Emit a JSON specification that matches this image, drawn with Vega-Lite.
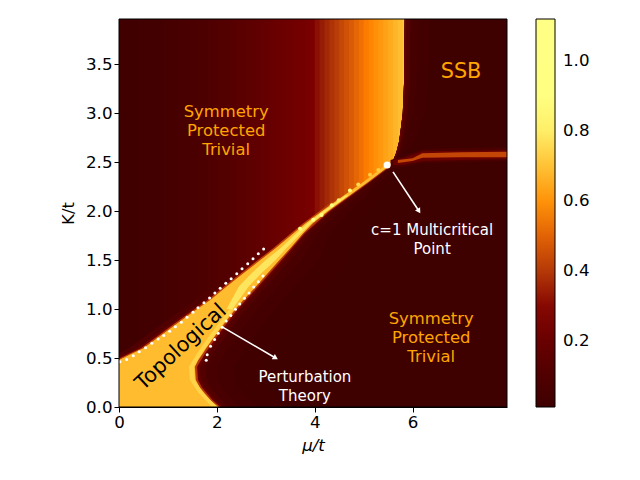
{"$schema":"https://vega.github.io/schema/vega-lite/v6.json","width":388,"height":388,"autosize":"none","padding":{"left":119,"top":19,"right":133,"bottom":73},"background":"white","config":{"font":"DejaVu Sans","view":{"stroke":null},"axis":{"grid":false,"labelFontSize":16.67,"titleFontSize":16.67,"titleFontWeight":"normal","tickSize":5,"tickColor":"black","domainColor":"black","labelColor":"black","titleColor":"black","labelOverlap":false,"labelFlush":false}},
"encoding":{"x":{"field":"x","type":"quantitative","scale":{"domain":[0,7.93],"nice":false,"zero":false},"axis":{"values":[0,2,4,6],"title":"μ/t","titleFontStyle":"italic","format":"d","titlePadding":7}},"y":{"field":"y","type":"quantitative","scale":{"domain":[0,3.96],"nice":false,"zero":false},"axis":{"values":[0,0.5,1,1.5,2,2.5,3,3.5],"title":"K/t","format":".1f","titlePadding":8}}},
"layer":[
{"mark":{"type":"rect","clip":true},"data":{"values":[
{"x":0,"x2":0.12,"y":0,"y2":3.96,"v":0.02},{"x":0.1,"x2":0.22,"y":0,"y2":3.96,"v":0.022},{"x":0.2,"x2":0.32,"y":0,"y2":3.96,"v":0.025},{"x":0.3,"x2":0.42,"y":0,"y2":3.96,"v":0.028},{"x":0.4,"x2":0.52,"y":0,"y2":3.96,"v":0.03},{"x":0.5,"x2":0.62,"y":0,"y2":3.96,"v":0.033},{"x":0.6,"x2":0.72,"y":0,"y2":3.96,"v":0.037},{"x":0.7,"x2":0.82,"y":0,"y2":3.96,"v":0.04},{"x":0.8,"x2":0.92,"y":0,"y2":3.96,"v":0.045},{"x":0.9,"x2":1.02,"y":0,"y2":3.96,"v":0.05},
{"x":1.0,"x2":1.12,"y":0,"y2":3.96,"v":0.054},{"x":1.1,"x2":1.22,"y":0,"y2":3.96,"v":0.058},{"x":1.2,"x2":1.32,"y":0,"y2":3.96,"v":0.063},{"x":1.3,"x2":1.42,"y":0,"y2":3.96,"v":0.068},{"x":1.4,"x2":1.52,"y":0,"y2":3.96,"v":0.073},{"x":1.5,"x2":1.62,"y":0,"y2":3.96,"v":0.078},{"x":1.6,"x2":1.72,"y":0,"y2":3.96,"v":0.085},{"x":1.7,"x2":1.82,"y":0,"y2":3.96,"v":0.09},{"x":1.8,"x2":1.92,"y":0,"y2":3.96,"v":0.096},{"x":1.9,"x2":2.02,"y":0,"y2":3.96,"v":0.102},
{"x":2.0,"x2":2.12,"y":0,"y2":3.96,"v":0.108},{"x":2.1,"x2":2.22,"y":0,"y2":3.96,"v":0.115},{"x":2.2,"x2":2.32,"y":0,"y2":3.96,"v":0.122},{"x":2.3,"x2":2.42,"y":0,"y2":3.96,"v":0.13},{"x":2.4,"x2":2.52,"y":0,"y2":3.96,"v":0.138},{"x":2.5,"x2":2.62,"y":0,"y2":3.96,"v":0.146},{"x":2.6,"x2":2.72,"y":0,"y2":3.96,"v":0.155},{"x":2.7,"x2":2.82,"y":0,"y2":3.96,"v":0.163},{"x":2.8,"x2":2.92,"y":0,"y2":3.96,"v":0.172},{"x":2.9,"x2":3.02,"y":0,"y2":3.96,"v":0.18},
{"x":3.0,"x2":3.12,"y":0,"y2":3.96,"v":0.19},{"x":3.1,"x2":3.22,"y":0,"y2":3.96,"v":0.198},{"x":3.2,"x2":3.32,"y":0,"y2":3.96,"v":0.206},{"x":3.3,"x2":3.42,"y":0,"y2":3.96,"v":0.214},{"x":3.4,"x2":3.52,"y":0,"y2":3.96,"v":0.222},{"x":3.5,"x2":3.62,"y":0,"y2":3.96,"v":0.23},{"x":3.6,"x2":3.72,"y":0,"y2":3.96,"v":0.238},{"x":3.7,"x2":3.82,"y":0,"y2":3.96,"v":0.246},{"x":3.8,"x2":3.92,"y":0,"y2":3.96,"v":0.255},{"x":3.9,"x2":4.02,"y":0,"y2":3.96,"v":0.275},
{"x":4.0,"x2":4.12,"y":0,"y2":3.96,"v":0.31},{"x":4.1,"x2":4.22,"y":0,"y2":3.96,"v":0.335},{"x":4.2,"x2":4.32,"y":0,"y2":3.96,"v":0.36},{"x":4.3,"x2":4.42,"y":0,"y2":3.96,"v":0.385},{"x":4.4,"x2":4.52,"y":0,"y2":3.96,"v":0.41},{"x":4.5,"x2":4.62,"y":0,"y2":3.96,"v":0.435},{"x":4.6,"x2":4.72,"y":0,"y2":3.96,"v":0.46},{"x":4.7,"x2":4.82,"y":0,"y2":3.96,"v":0.48},{"x":4.8,"x2":4.92,"y":0,"y2":3.96,"v":0.505},{"x":4.9,"x2":5.02,"y":0,"y2":3.96,"v":0.53},
{"x":5.0,"x2":5.12,"y":0,"y2":3.96,"v":0.555},{"x":5.1,"x2":5.22,"y":0,"y2":3.96,"v":0.575},{"x":5.2,"x2":5.32,"y":0,"y2":3.96,"v":0.595},{"x":5.3,"x2":5.42,"y":0,"y2":3.96,"v":0.61},{"x":5.4,"x2":5.52,"y":0,"y2":3.96,"v":0.63},{"x":5.5,"x2":5.62,"y":0,"y2":3.96,"v":0.65},{"x":5.6,"x2":5.72,"y":0,"y2":3.96,"v":0.67},{"x":5.7,"x2":5.82,"y":0,"y2":3.96,"v":0.69},{"x":5.8,"x2":5.9,"y":0,"y2":3.96,"v":0.72},{"x":5.84,"x2":7.93,"y":0,"y2":3.96,"v":0.012}]},
"encoding":{"x2":{"field":"x2"},"y2":{"field":"y2"},"color":{"field":"v","type":"quantitative","scale":{"domain":[0.01,0.2875,0.565,0.8425,1.12],"range":["#000000","#800000","#ff8000","#ffff80","#ffffff"],"clamp":true},"legend":{"orient":"none","legendX":417,"legendY":0,"title":null,"gradientLength":388,"gradientThickness":19,"values":[0.2,0.4,0.6,0.8,1.0],"format":".1f","labelFontSize":16.67,"labelColor":"black","labelOffset":8,"gradientStrokeColor":"black","gradientStrokeWidth":1,"direction":"vertical"}}}},
{"mark":{"type":"area","orient":"horizontal","clip":true},"data":{"values":[
{"l":"k","y":0,"x":1.5,"x2":7.93,"v":0.012},{"l":"k","y":0.275,"x":1.4,"x2":7.93,"v":0.012},{"l":"k","y":0.55,"x":1.4,"x2":7.93,"v":0.012},{"l":"k","y":0.75,"x":1.6,"x2":7.93,"v":0.012},{"l":"k","y":1,"x":2,"x2":7.93,"v":0.012},{"l":"k","y":1.23,"x":2.5,"x2":7.93,"v":0.012},{"l":"k","y":1.5,"x":3.1,"x2":7.93,"v":0.012},{"l":"k","y":1.77,"x":3.66,"x2":7.93,"v":0.012},{"l":"k","y":2,"x":4.22,"x2":7.93,"v":0.012},{"l":"k","y":2.16,"x":4.66,"x2":7.93,"v":0.012},{"l":"k","y":2.3,"x":5.05,"x2":7.93,"v":0.012},{"l":"k","y":2.47,"x":5.5,"x2":7.93,"v":0.012},
{"l":"b0","y":2.47,"x":5.56,"x2":6.9,"v":0.012},{"l":"b0","y":2.55,"x":5.63,"x2":6.9,"v":0.012},{"l":"b0","y":2.6,"x":5.67,"x2":6.9,"v":0.012},{"l":"b0","y":2.7,"x":5.72,"x2":6.9,"v":0.012},{"l":"b0","y":2.8,"x":5.75,"x2":6.9,"v":0.012},{"l":"b0","y":3,"x":5.8,"x2":6.9,"v":0.012},{"l":"b0","y":3.3,"x":5.825,"x2":6.9,"v":0.012},{"l":"b0","y":3.96,"x":5.84,"x2":6.9,"v":0.012},
{"l":"b1","y":2.47,"x":5.56,"x2":5.66,"v":0.03},{"l":"b1","y":2.55,"x":5.63,"x2":5.78,"v":0.03},{"l":"b1","y":2.6,"x":5.67,"x2":5.87,"v":0.03},{"l":"b1","y":2.7,"x":5.72,"x2":6.02,"v":0.03},{"l":"b1","y":2.8,"x":5.75,"x2":6.1,"v":0.03},{"l":"b1","y":3,"x":5.8,"x2":6.25,"v":0.03},{"l":"b1","y":3.3,"x":5.825,"x2":6.325,"v":0.03},{"l":"b1","y":3.96,"x":5.84,"x2":6.36,"v":0.03},
{"l":"b2","y":2.47,"x":5.56,"x2":5.62,"v":0.06},{"l":"b2","y":2.55,"x":5.63,"x2":5.71,"v":0.06},{"l":"b2","y":2.6,"x":5.67,"x2":5.77,"v":0.06},{"l":"b2","y":2.7,"x":5.72,"x2":5.85,"v":0.06},{"l":"b2","y":2.8,"x":5.75,"x2":5.9,"v":0.06},{"l":"b2","y":3,"x":5.8,"x2":6,"v":0.06},{"l":"b2","y":3.3,"x":5.825,"x2":6.075,"v":0.06},{"l":"b2","y":3.96,"x":5.84,"x2":6.11,"v":0.06},
{"l":"b3","y":2.47,"x":5.56,"x2":5.59,"v":0.12},{"l":"b3","y":2.55,"x":5.63,"x2":5.67,"v":0.12},{"l":"b3","y":2.6,"x":5.67,"x2":5.72,"v":0.12},{"l":"b3","y":2.7,"x":5.72,"x2":5.78,"v":0.12},{"l":"b3","y":2.8,"x":5.75,"x2":5.82,"v":0.12},{"l":"b3","y":3,"x":5.8,"x2":5.89,"v":0.12},{"l":"b3","y":3.3,"x":5.825,"x2":5.925,"v":0.12},{"l":"b3","y":3.96,"x":5.84,"x2":5.96,"v":0.12},
{"l":"b4","y":2.47,"x":5.56,"x2":5.58,"v":0.22},{"l":"b4","y":2.55,"x":5.63,"x2":5.65,"v":0.22},{"l":"b4","y":2.6,"x":5.67,"x2":5.69,"v":0.22},{"l":"b4","y":2.7,"x":5.72,"x2":5.74,"v":0.22},{"l":"b4","y":2.8,"x":5.75,"x2":5.77,"v":0.22},{"l":"b4","y":3,"x":5.8,"x2":5.82,"v":0.22},{"l":"b4","y":3.3,"x":5.825,"x2":5.85,"v":0.22},{"l":"b4","y":3.96,"x":5.84,"x2":5.87,"v":0.22},
{"l":"A","y":0,"x":1.5,"x2":3.43,"v":0.025},{"l":"A","y":0.07,"x":1.5,"x2":3.27,"v":0.025},{"l":"A","y":0.14,"x":1.5,"x2":3.15,"v":0.025},{"l":"A","y":0.2,"x":1.5,"x2":3.05,"v":0.025},{"l":"A","y":0.275,"x":1.4,"x2":2.97,"v":0.025},{"l":"A","y":0.41,"x":1.4,"x2":2.95,"v":0.025},{"l":"A","y":0.55,"x":1.4,"x2":3.12,"v":0.025},{"l":"A","y":0.75,"x":1.6,"x2":3.4,"v":0.025},{"l":"A","y":1,"x":2,"x2":3.78,"v":0.025},{"l":"A","y":1.23,"x":2.5,"x2":4.2,"v":0.025},{"l":"A","y":1.5,"x":3.1,"x2":4.68,"v":0.025},{"l":"A","y":1.77,"x":3.66,"x2":4.76,"v":0.025},{"l":"A","y":2,"x":4.22,"x2":5.08,"v":0.025},{"l":"A","y":2.16,"x":4.66,"x2":5.32,"v":0.025},{"l":"A","y":2.3,"x":5.05,"x2":5.5,"v":0.025},{"l":"A","y":2.47,"x":5.5,"x2":5.75,"v":0.025},
{"l":"B","y":0,"x":1.5,"x2":2.83,"v":0.045},{"l":"B","y":0.07,"x":1.5,"x2":2.67,"v":0.045},{"l":"B","y":0.14,"x":1.5,"x2":2.55,"v":0.045},{"l":"B","y":0.2,"x":1.5,"x2":2.45,"v":0.045},{"l":"B","y":0.275,"x":1.4,"x2":2.37,"v":0.045},{"l":"B","y":0.41,"x":1.4,"x2":2.35,"v":0.045},{"l":"B","y":0.55,"x":1.4,"x2":2.52,"v":0.045},{"l":"B","y":0.75,"x":1.6,"x2":2.8,"v":0.045},{"l":"B","y":1,"x":2,"x2":3.18,"v":0.045},{"l":"B","y":1.23,"x":2.5,"x2":3.6,"v":0.045},{"l":"B","y":1.5,"x":3.1,"x2":4.08,"v":0.045},{"l":"B","y":1.77,"x":3.66,"x2":4.31,"v":0.045},{"l":"B","y":2,"x":4.22,"x2":4.73,"v":0.045},{"l":"B","y":2.16,"x":4.66,"x2":5.07,"v":0.045},{"l":"B","y":2.3,"x":5.05,"x2":5.35,"v":0.045},{"l":"B","y":2.47,"x":5.5,"x2":5.67,"v":0.045},
{"l":"C","y":0,"x":1.5,"x2":2.48,"v":0.07},{"l":"C","y":0.07,"x":1.5,"x2":2.32,"v":0.07},{"l":"C","y":0.14,"x":1.5,"x2":2.2,"v":0.07},{"l":"C","y":0.2,"x":1.5,"x2":2.1,"v":0.07},{"l":"C","y":0.275,"x":1.4,"x2":2.02,"v":0.07},{"l":"C","y":0.41,"x":1.4,"x2":2,"v":0.07},{"l":"C","y":0.55,"x":1.4,"x2":2.17,"v":0.07},{"l":"C","y":0.75,"x":1.6,"x2":2.45,"v":0.07},{"l":"C","y":1,"x":2,"x2":2.83,"v":0.07},{"l":"C","y":1.23,"x":2.5,"x2":3.25,"v":0.07},{"l":"C","y":1.5,"x":3.1,"x2":3.73,"v":0.07},{"l":"C","y":1.77,"x":3.66,"x2":4.06,"v":0.07},{"l":"C","y":2,"x":4.22,"x2":4.53,"v":0.07},{"l":"C","y":2.16,"x":4.66,"x2":4.92,"v":0.07},{"l":"C","y":2.3,"x":5.05,"x2":5.25,"v":0.07},{"l":"C","y":2.47,"x":5.5,"x2":5.63,"v":0.07},
{"l":"D","y":0,"x":1.5,"x2":2.25,"v":0.11},{"l":"D","y":0.07,"x":1.5,"x2":2.09,"v":0.11},{"l":"D","y":0.14,"x":1.5,"x2":1.97,"v":0.11},{"l":"D","y":0.2,"x":1.5,"x2":1.87,"v":0.11},{"l":"D","y":0.275,"x":1.4,"x2":1.79,"v":0.11},{"l":"D","y":0.41,"x":1.4,"x2":1.77,"v":0.11},{"l":"D","y":0.55,"x":1.4,"x2":1.94,"v":0.11},{"l":"D","y":0.75,"x":1.6,"x2":2.22,"v":0.11},{"l":"D","y":1,"x":2,"x2":2.6,"v":0.11},{"l":"D","y":1.23,"x":2.5,"x2":3.02,"v":0.11},{"l":"D","y":1.5,"x":3.1,"x2":3.5,"v":0.11},{"l":"D","y":1.77,"x":3.66,"x2":3.91,"v":0.11},{"l":"D","y":2,"x":4.22,"x2":4.4,"v":0.11},{"l":"D","y":2.16,"x":4.66,"x2":4.82,"v":0.11},{"l":"D","y":2.3,"x":5.05,"x2":5.18,"v":0.11},{"l":"D","y":2.47,"x":5.5,"x2":5.6,"v":0.11},
{"l":"E","y":0,"x":1.5,"x2":2.13,"v":0.2},{"l":"E","y":0.07,"x":1.5,"x2":1.97,"v":0.2},{"l":"E","y":0.14,"x":1.5,"x2":1.85,"v":0.2},{"l":"E","y":0.2,"x":1.5,"x2":1.75,"v":0.2},{"l":"E","y":0.275,"x":1.4,"x2":1.67,"v":0.2},{"l":"E","y":0.41,"x":1.4,"x2":1.65,"v":0.2},{"l":"E","y":0.55,"x":1.4,"x2":1.82,"v":0.2},{"l":"E","y":0.75,"x":1.6,"x2":2.1,"v":0.2},{"l":"E","y":1,"x":2,"x2":2.48,"v":0.2},{"l":"E","y":1.23,"x":2.5,"x2":2.9,"v":0.2},{"l":"E","y":1.5,"x":3.1,"x2":3.38,"v":0.2},{"l":"E","y":1.77,"x":3.66,"x2":3.83,"v":0.2},{"l":"E","y":2,"x":4.22,"x2":4.34,"v":0.2},{"l":"E","y":2.16,"x":4.66,"x2":4.77,"v":0.2},{"l":"E","y":2.3,"x":5.05,"x2":5.14,"v":0.2},{"l":"E","y":2.47,"x":5.5,"x2":5.58,"v":0.2},
{"l":"F","y":0,"x":1.5,"x2":2.075,"v":0.4},{"l":"F","y":0.07,"x":1.5,"x2":1.915,"v":0.4},{"l":"F","y":0.14,"x":1.5,"x2":1.795,"v":0.4},{"l":"F","y":0.2,"x":1.5,"x2":1.695,"v":0.4},{"l":"F","y":0.275,"x":1.4,"x2":1.615,"v":0.4},{"l":"F","y":0.41,"x":1.4,"x2":1.595,"v":0.4},{"l":"F","y":0.55,"x":1.4,"x2":1.765,"v":0.4},{"l":"F","y":0.75,"x":1.6,"x2":2.045,"v":0.4},{"l":"F","y":1,"x":2,"x2":2.425,"v":0.4},{"l":"F","y":1.23,"x":2.5,"x2":2.845,"v":0.4},{"l":"F","y":1.5,"x":3.1,"x2":3.325,"v":0.4},{"l":"F","y":1.77,"x":3.66,"x2":3.79,"v":0.4},{"l":"F","y":2,"x":4.22,"x2":4.31,"v":0.4},{"l":"F","y":2.16,"x":4.66,"x2":4.75,"v":0.4},{"l":"F","y":2.3,"x":5.05,"x2":5.13,"v":0.4},{"l":"F","y":2.47,"x":5.5,"x2":5.58,"v":0.4},
{"l":"G0","y":0.44,"x":-0.5,"x2":0,"v":0.1},{"l":"G0","y":0.55,"x":-0.01,"x2":0.4,"v":0.1},{"l":"G0","y":0.6,"x":0.2,"x2":0.6,"v":0.1},{"l":"G0","y":0.75,"x":0.61,"x2":1,"v":0.1},{"l":"G0","y":0.85,"x":0.88,"x2":1.3,"v":0.1},{"l":"G0","y":1,"x":1.3,"x2":1.7,"v":0.1},{"l":"G0","y":1.09,"x":1.56,"x2":2,"v":0.1},{"l":"G0","y":1.23,"x":1.9,"x2":2.3,"v":0.1},
{"l":"G","y":0.44,"x":-0.29,"x2":0.1,"v":0.2},{"l":"G","y":0.48,"x":-0.12,"x2":0.2,"v":0.2},{"l":"G","y":0.55,"x":0.17,"x2":0.4,"v":0.2},{"l":"G","y":0.6,"x":0.38,"x2":0.6,"v":0.2},{"l":"G","y":0.75,"x":0.79,"x2":1,"v":0.2},{"l":"G","y":0.85,"x":1.06,"x2":1.3,"v":0.2},{"l":"G","y":1,"x":1.48,"x2":1.7,"v":0.2},{"l":"G","y":1.09,"x":1.74,"x2":2,"v":0.2},{"l":"G","y":1.23,"x":2.08,"x2":2.3,"v":0.2},{"l":"G","y":1.36,"x":2.41,"x2":2.6,"v":0.2},{"l":"G","y":1.5,"x":2.77,"x2":3,"v":0.2},{"l":"G","y":1.62,"x":3.08,"x2":3.3,"v":0.2},
{"l":"H","y":0.44,"x":-0.22,"x2":0.1,"v":0.42},{"l":"H","y":0.48,"x":-0.05,"x2":0.2,"v":0.42},{"l":"H","y":0.55,"x":0.24,"x2":0.4,"v":0.42},{"l":"H","y":0.6,"x":0.45,"x2":0.6,"v":0.42},{"l":"H","y":0.75,"x":0.86,"x2":1,"v":0.42},{"l":"H","y":0.85,"x":1.13,"x2":1.3,"v":0.42},{"l":"H","y":1,"x":1.55,"x2":1.7,"v":0.42},{"l":"H","y":1.09,"x":1.81,"x2":2,"v":0.42},{"l":"H","y":1.23,"x":2.15,"x2":2.3,"v":0.42},{"l":"H","y":1.36,"x":2.48,"x2":2.6,"v":0.42},{"l":"H","y":1.5,"x":2.84,"x2":3,"v":0.42},{"l":"H","y":1.62,"x":3.15,"x2":3.3,"v":0.42},{"l":"H","y":1.77,"x":3.51,"x2":3.65,"v":0.42},{"l":"H","y":1.87,"x":3.75,"x2":3.88,"v":0.42},{"l":"H","y":2,"x":4.1,"x2":4.2,"v":0.42},{"l":"H","y":2.1,"x":4.36,"x2":4.45,"v":0.42},
{"l":"W","y":0,"x":-0.1,"x2":2.03,"v":0.685},{"l":"W","y":0.07,"x":-0.1,"x2":1.87,"v":0.685},{"l":"W","y":0.14,"x":-0.1,"x2":1.75,"v":0.685},{"l":"W","y":0.2,"x":-0.1,"x2":1.65,"v":0.685},{"l":"W","y":0.275,"x":-0.1,"x2":1.57,"v":0.685},{"l":"W","y":0.41,"x":-0.1,"x2":1.55,"v":0.685},{"l":"W","y":0.44,"x":-0.17,"x2":1.58,"v":0.685},{"l":"W","y":0.48,"x":0,"x2":1.62,"v":0.685},{"l":"W","y":0.55,"x":0.29,"x2":1.72,"v":0.685},{"l":"W","y":0.6,"x":0.5,"x2":1.78,"v":0.685},{"l":"W","y":0.75,"x":0.91,"x2":2,"v":0.685},{"l":"W","y":0.85,"x":1.18,"x2":2.15,"v":0.685},{"l":"W","y":1,"x":1.6,"x2":2.38,"v":0.685},{"l":"W","y":1.09,"x":1.86,"x2":2.54,"v":0.685},{"l":"W","y":1.23,"x":2.2,"x2":2.8,"v":0.685},{"l":"W","y":1.36,"x":2.53,"x2":3.03,"v":0.685},{"l":"W","y":1.5,"x":2.89,"x2":3.28,"v":0.685},{"l":"W","y":1.62,"x":3.2,"x2":3.5,"v":0.685},{"l":"W","y":1.77,"x":3.56,"x2":3.76,"v":0.685},{"l":"W","y":1.87,"x":3.8,"x2":3.95,"v":0.685},{"l":"W","y":2,"x":4.15,"x2":4.28,"v":0.685},{"l":"W","y":2.16,"x":4.6,"x2":4.72,"v":0.685},{"l":"W","y":2.3,"x":5,"x2":5.1,"v":0.685},{"l":"W","y":2.47,"x":5.45,"x2":5.55,"v":0.685},
{"l":"Y","y":0,"x":1.9,"x2":2.01,"v":0.74},{"l":"Y","y":0.14,"x":1.63,"x2":1.73,"v":0.74},{"l":"Y","y":0.275,"x":1.45,"x2":1.55,"v":0.74},{"l":"Y","y":0.41,"x":1.43,"x2":1.53,"v":0.74},{"l":"Y","y":0.55,"x":1.6,"x2":1.7,"v":0.74},{"l":"Y","y":0.75,"x":1.88,"x2":1.98,"v":0.74},{"l":"Y","y":1,"x":2.26,"x2":2.34,"v":0.74},
{"l":"Z","y":1,"x":2.2,"x2":2.32,"v":0.78},{"l":"Z","y":1.23,"x":2.45,"x2":2.65,"v":0.78},{"l":"Z","y":1.36,"x":2.7,"x2":2.9,"v":0.78},{"l":"Z","y":1.5,"x":3,"x2":3.2,"v":0.78},{"l":"Z","y":1.62,"x":3.3,"x2":3.42,"v":0.78},{"l":"Z","y":1.77,"x":3.62,"x2":3.72,"v":0.78},{"l":"Z","y":1.87,"x":3.84,"x2":3.92,"v":0.78},{"l":"Z","y":2,"x":4.18,"x2":4.25,"v":0.78},{"l":"Z","y":2.16,"x":4.63,"x2":4.69,"v":0.78}]},
"encoding":{"x2":{"field":"x2"},"detail":{"field":"l"},"color":{"field":"v","type":"quantitative","scale":{"domain":[0.01,0.2875,0.565,0.8425,1.12],"range":["#000000","#800000","#ff8000","#ffff80","#ffffff"],"clamp":true},"legend":null}}},
{"mark":{"type":"area","orient":"vertical","clip":true},"data":{"values":[
{"l":"h1","x":5.55,"y":2.44,"y2":2.52,"v":0.08},{"l":"h1","x":5.8,"y":2.45,"y2":2.56,"v":0.08},{"l":"h1","x":6.2,"y":2.49,"y2":2.63,"v":0.08},{"l":"h1","x":7,"y":2.5,"y2":2.64,"v":0.08},{"l":"h1","x":7.93,"y":2.51,"y2":2.65,"v":0.08},
{"l":"h2","x":5.6,"y":2.47,"y2":2.52,"v":0.2},{"l":"h2","x":5.8,"y":2.47,"y2":2.54,"v":0.2},{"l":"h2","x":6.2,"y":2.51,"y2":2.61,"v":0.2},{"l":"h2","x":7,"y":2.52,"y2":2.615,"v":0.2},{"l":"h2","x":7.93,"y":2.53,"y2":2.62,"v":0.2},
{"l":"h3","x":5.7,"y":2.49,"y2":2.52,"v":0.43},{"l":"h3","x":6,"y":2.51,"y2":2.54,"v":0.43},{"l":"h3","x":6.2,"y":2.545,"y2":2.59,"v":0.43},{"l":"h3","x":7,"y":2.55,"y2":2.6,"v":0.43},{"l":"h3","x":7.93,"y":2.55,"y2":2.605,"v":0.43}]},
"encoding":{"y2":{"field":"y2"},"detail":{"field":"l"},"color":{"field":"v","type":"quantitative","scale":{"domain":[0.01,0.2875,0.565,0.8425,1.12],"range":["#000000","#800000","#ff8000","#ffff80","#ffffff"],"clamp":true},"legend":null}}},
{"mark":{"type":"point","filled":true,"opacity":1,"size":16,"clip":true},"data":{"values":[{"x":3.7,"y":1.82,"v":0.85},{"x":3.97,"y":1.91,"v":0.9},{"x":4.14,"y":1.96,"v":0.85},{"x":4.35,"y":2.06,"v":0.9},{"x":4.49,"y":2.11,"v":0.8},{"x":4.72,"y":2.21,"v":0.85},{"x":4.89,"y":2.27,"v":0.75},{"x":5.13,"y":2.37,"v":0.72},{"x":5.3,"y":2.42,"v":0.72}]},"encoding":{"color":{"field":"v","type":"quantitative","scale":{"domain":[0.01,0.2875,0.565,0.8425,1.12],"range":["#000000","#800000","#ff8000","#ffff80","#ffffff"],"clamp":true},"legend":null}}},
{"mark":{"type":"circle","color":"white","opacity":1,"size":9},"data":{"values":[{"x":0.02,"y":0.463},{"x":0.156,"y":0.486},{"x":0.292,"y":0.524},{"x":0.414,"y":0.565},{"x":0.542,"y":0.605},{"x":0.671,"y":0.65},{"x":0.8,"y":0.694},{"x":0.915,"y":0.731},{"x":1.037,"y":0.772},{"x":1.153,"y":0.82},{"x":1.275,"y":0.864},{"x":1.39,"y":0.915},{"x":1.512,"y":0.966},{"x":1.614,"y":1.014},{"x":1.736,"y":1.065},{"x":1.851,"y":1.112},{"x":1.959,"y":1.163},{"x":2.068,"y":1.211},{"x":2.183,"y":1.262},{"x":2.292,"y":1.31},{"x":2.407,"y":1.361},{"x":2.515,"y":1.412},{"x":2.631,"y":1.463},{"x":2.739,"y":1.514},{"x":2.847,"y":1.565},{"x":2.956,"y":1.612},
{"x":1.783,"y":0.476},{"x":1.803,"y":0.534},{"x":1.871,"y":0.619},{"x":1.953,"y":0.69},{"x":2.027,"y":0.752},{"x":2.108,"y":0.813},{"x":2.19,"y":0.878},{"x":2.285,"y":0.935},{"x":2.38,"y":0.997},{"x":2.468,"y":1.051},{"x":2.563,"y":1.109},{"x":2.658,"y":1.163},{"x":2.753,"y":1.224},{"x":2.847,"y":1.279},{"x":2.942,"y":1.337}]}},
{"mark":{"type":"rule","color":"white","strokeWidth":1.6},"data":{"values":[{"x":2.1,"y":0.82,"x2":3.2,"y2":0.5},{"x":5.6,"y":2.4,"x2":6.13,"y2":2.0}]},"encoding":{"x2":{"field":"x2"},"y2":{"field":"y2"}}},
{"mark":{"type":"point","shape":"triangle-up","filled":true,"color":"white","opacity":1,"size":36,"angle":121},"data":{"values":[{"x":3.2,"y":0.5}]}},
{"mark":{"type":"point","shape":"triangle-up","filled":true,"color":"white","opacity":1,"size":36,"angle":148},"data":{"values":[{"x":6.13,"y":2.0}]}},
{"mark":{"type":"circle","color":"white","opacity":1,"size":50},"data":{"values":[{"x":5.48,"y":2.47}]}},
{"mark":{"type":"text","color":"orange","fontSize":16.4,"align":"center","baseline":"middle"},"data":{"values":[{"x":2.19,"y":3.01,"t":"Symmetry"},{"x":2.19,"y":2.82,"t":"Protected"},{"x":2.19,"y":2.62,"t":"Trivial"},{"x":6.38,"y":0.9,"t":"Symmetry"},{"x":6.38,"y":0.7,"t":"Protected"},{"x":6.38,"y":0.51,"t":"Trivial"}]},"encoding":{"text":{"field":"t"}}},
{"mark":{"type":"text","color":"orange","fontSize":20.8,"align":"center","baseline":"middle"},"data":{"values":[{"x":6.99,"y":3.42,"t":"SSB"}]},"encoding":{"text":{"field":"t"}}},
{"mark":{"type":"text","color":"white","fontSize":15,"align":"center","baseline":"middle"},"data":{"values":[{"x":6.4,"y":1.81,"t":"c=1 Multicritical"},{"x":6.4,"y":1.61,"t":"Point"},{"x":3.8,"y":0.306,"t":"Perturbation"},{"x":3.8,"y":0.112,"t":"Theory"}]},"encoding":{"text":{"field":"t"}}},
{"mark":{"type":"text","color":"black","fontSize":20.8,"align":"center","baseline":"middle","angle":317},"data":{"values":[{"x":1.27,"y":0.61,"t":"Topological"}]},"encoding":{"text":{"field":"t"}}},
{"mark":{"type":"rect","fill":null,"fillOpacity":0,"stroke":"black","strokeWidth":1,"clip":false},"data":{"values":[{"x":0,"x2":7.93,"y":0,"y2":3.96}]},"encoding":{"x2":{"field":"x2"},"y2":{"field":"y2"}}}
]}
